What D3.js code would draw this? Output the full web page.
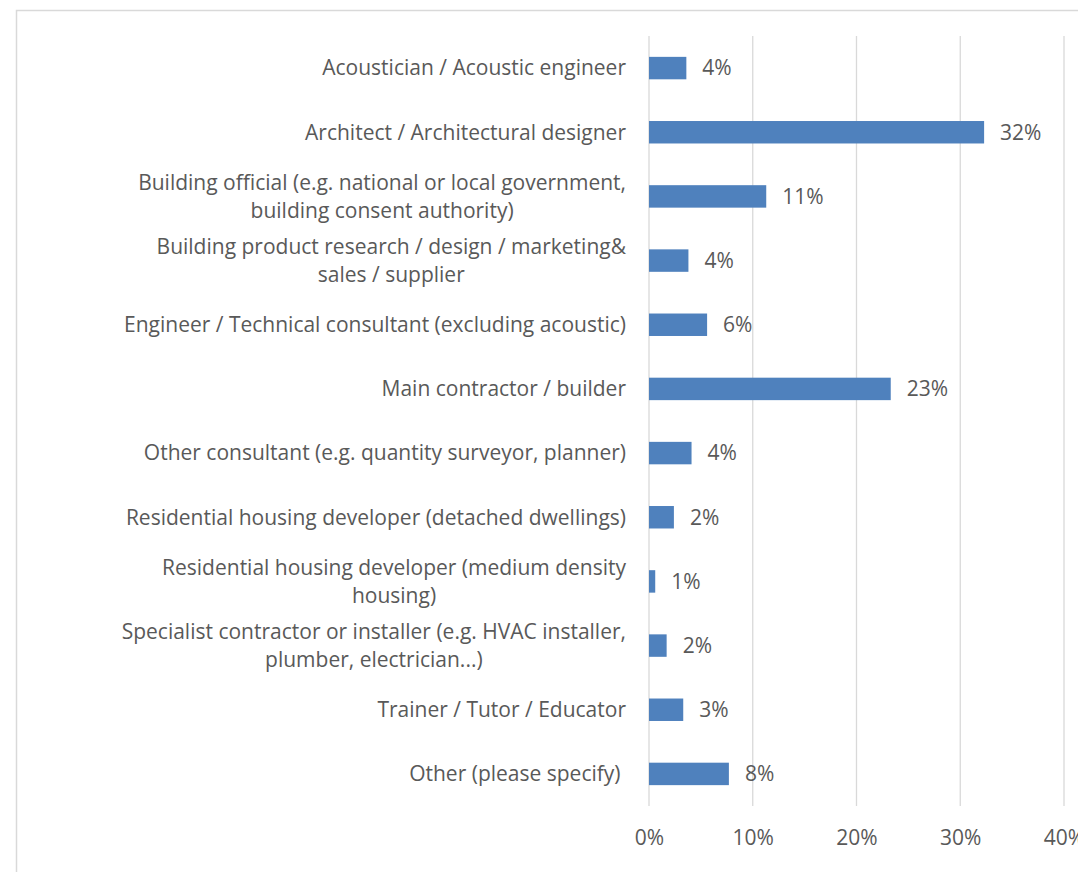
<!DOCTYPE html>
<html>
<head>
<meta charset="utf-8">
<script src="https://cdn.jsdelivr.net/npm/d3@7"></script>
<style>
  html, body { margin: 0; padding: 0; background: #ffffff; }
  svg { display: block; }
  text { font-family: "Open Sans", "Noto Sans", sans-serif; fill: #595959; white-space: pre; }
</style>
</head>
<body>
<svg id="chart" width="1078" height="872"></svg>
<script>
const categories = [
  "Acoustician / Acoustic engineer",
  "Architect / Architectural designer",
  "Building official (e.g. national or local government,\nbuilding consent authority)",
  "Building product research / design / marketing&\nsales / supplier",
  "Engineer / Technical consultant (excluding acoustic)",
  "Main contractor / builder",
  "Other consultant (e.g. quantity surveyor, planner)",
  "Residential housing developer (detached dwellings)",
  "Residential housing developer (medium density\nhousing)",
  "Specialist contractor or installer (e.g. HVAC installer,\nplumber, electrician...)",
  "Trainer / Tutor / Educator",
  "Other (please specify) "
];
const values = [0.036, 0.323, 0.113, 0.038, 0.056, 0.233, 0.041, 0.024, 0.006, 0.017, 0.033, 0.077];
const xTicks = [0, 0.1, 0.2, 0.3, 0.4];

const svg = d3.select("#chart");
const FS = 21;

// outer border
svg.append("rect")
  .attr("x", 16.5).attr("y", 10.5)
  .attr("width", 1100).attr("height", 900)
  .attr("fill", "none").attr("stroke", "#d9d9d9").attr("stroke-width", 1.5);

const x = d3.scaleLinear().domain([0, 0.4]).range([649, 1064]);
const y = d3.scaleBand().domain(categories).range([36, 806])
  .paddingInner(0.65).paddingOuter(0.325);

// gridlines
svg.append("g").selectAll("line").data(xTicks).join("line")
  .attr("x1", d => x(d)).attr("x2", d => x(d))
  .attr("y1", 36).attr("y2", 806)
  .attr("stroke", "#d9d9d9").attr("stroke-width", 1.3);

// x axis labels
const xAxis = d3.axisBottom(x).tickValues(xTicks).tickFormat(d3.format(".0%")).tickSize(0).tickPadding(0);
const gx = svg.append("g").attr("transform", "translate(0,830)").call(xAxis);
gx.select(".domain").remove();
gx.selectAll("text").attr("font-size", FS).attr("font-family", null).attr("fill", "#595959")
  .attr("dy", "0.35em").attr("y", 8);

// bars
svg.append("g").selectAll("rect").data(values).join("rect")
  .attr("x", x(0))
  .attr("y", (d, i) => y(categories[i]))
  .attr("width", d => x(d) - x(0))
  .attr("height", y.bandwidth())
  .attr("fill", "#4f81bd");

// data labels
svg.append("g").selectAll("text").data(values).join("text")
  .attr("x", d => x(d) + 16)
  .attr("y", (d, i) => y(categories[i]) + y.bandwidth() / 2)
  .attr("dy", "0.35em")
  .attr("font-size", FS)
  .text(d => d3.format(".0%")(d));

// category labels
const yAxis = d3.axisLeft(y).tickSize(0).tickPadding(0).tickFormat("");
svg.append("g").attr("transform", "translate(649,0)").call(yAxis).select(".domain").remove();

const lineH = 28;
const labelRight = 626;
const lg = svg.append("g");
categories.forEach(c => {
  const lines = c.split("\n");
  const cy = y(c) + y.bandwidth() / 2;
  if (lines.length === 1) {
    lg.append("text").attr("x", labelRight).attr("y", cy).attr("dy", "0.35em")
      .attr("text-anchor", "end").attr("font-size", FS).text(lines[0]);
  } else {
    const tmp = lines.map((l, k) => lg.append("text").attr("font-size", FS)
      .attr("y", cy + (k - (lines.length - 1) / 2) * lineH).attr("dy", "0.35em").text(l));
    const widths = tmp.map(t => t.node().getComputedTextLength());
    const maxW = d3.max(widths);
    const centerX = labelRight - maxW / 2;
    tmp.forEach(t => t.attr("x", centerX).attr("text-anchor", "middle"));
  }
});
</script>
</body>
</html>
